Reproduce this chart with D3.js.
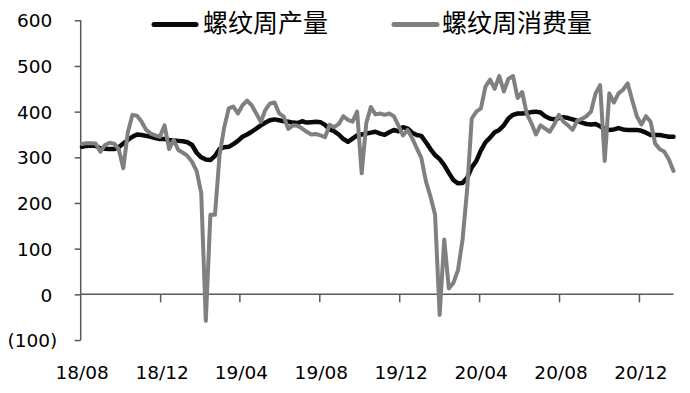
<!DOCTYPE html>
<html>
<head>
<meta charset="utf-8">
<script src="https://cdn.jsdelivr.net/npm/d3@7"></script>
<style>
  html, body { margin: 0; padding: 0; background: #fff; }
  svg { display: block; }
</style>
</head>
<body>
<svg id="chart" width="690" height="393"></svg>
<script>
// ---- data ----
const startDate = "2018-08-03";           // first weekly observation
const seriesNames = ["螺纹周产量", "螺纹周消费量"];
const production = [
  323,325,326,325,320,319,318,318,322,330,
  338,345,350,349,347,345,342,340,340,338,
  337,336,335,333,327,310,300,295,294,303,
  318,322,323,329,336,345,350,356,363,370,
  376,381,383,381,379,378,376,375,379,376,
  377,378,377,371,361,357,350,340,334,341,
  348,350,352,354,356,352,349,355,360,357,
  366,363,354,349,347,333,318,305,296,283,
  266,250,243,244,255,278,292,315,333,343,
  355,360,370,385,393,396,396,397,399,400,
  398,390,385,383,386,388,386,383,380,376,
  373,372,373,368,362,360,361,364,361,360,
  360,360,358,354,349,349,349,347,345,345
];
const consumption = [
  329,331,331,330,312,327,332,330,318,276,
  355,393,391,378,360,352,348,345,370,318,
  338,316,310,303,290,270,222,-58,174,174,
  305,365,407,411,396,414,424,414,396,378,
  404,418,420,396,389,362,370,369,363,356,
  350,351,348,344,371,366,373,390,382,378,
  400,265,375,410,394,396,393,396,390,370,
  348,360,342,320,299,248,214,174,-45,120,
  13,25,53,120,230,385,400,407,455,470,
  450,478,444,472,478,430,443,395,375,350,
  370,363,356,372,393,378,370,360,380,384,
  390,400,440,458,292,440,420,440,448,462,
  425,390,372,390,378,330,318,312,295,270
];
const yTicks = [-100, 0, 100, 200, 300, 400, 500, 600];
const xTickDates = ["2018-08-01","2018-12-01","2019-04-01","2019-08-01",
                    "2019-12-01","2020-04-01","2020-08-01","2020-12-01"];
const xDomainEnd = "2021-01-22";

// ---- setup ----
const parse = d3.timeParse("%Y-%m-%d");
const t0 = parse(startDate);
const dates = production.map((_, i) => d3.timeDay.offset(t0, 7 * i));
const svg = d3.select("#chart");
const FONT = "'DejaVu Sans', sans-serif";
const CJK = "'Noto Sans CJK SC', sans-serif";

const x = d3.scaleTime()
  .domain([parse(xTickDates[0]), parse(xDomainEnd)])
  .range([80.7, 673.5]);
const y = d3.scaleLinear().domain([-100, 600]).range([340.0, 20.3]);

const axisColor = "#595959";

// y axis
const yAxis = svg.append("g")
  .attr("transform", `translate(${x.range()[0]},0)`)
  .call(d3.axisLeft(y).tickValues(yTicks).tickSize(6).tickSizeOuter(0)
        .tickFormat(v => v < 0 ? `(${Math.abs(v)})` : `${v}`));
yAxis.select(".domain").attr("stroke", axisColor).attr("stroke-width", 1.5)
  .attr("d", `M0,${y(600)}V${y(-100)}`);
yAxis.selectAll(".tick line").attr("stroke", axisColor).attr("stroke-width", 1.5);
yAxis.selectAll(".tick text")
  .attr("font-family", FONT).attr("font-size", 18.5).attr("fill", "#000")
  .attr("x", v => v < 0 ? -23.5 : -28.5)
  .attr("dy", "0.36em");

// x axis (line at zero, labels at bottom)
const xg = svg.append("g").attr("transform", `translate(0,${y(0)})`);
xg.append("line")
  .attr("x1", x.range()[0]).attr("x2", x.range()[1])
  .attr("y1", 0).attr("y2", 0)
  .attr("stroke", axisColor).attr("stroke-width", 1.5);
const tickDates = xTickDates.map(parse);
xg.selectAll("line.tk").data(tickDates.slice(1)).join("line")
  .attr("class", "tk")
  .attr("x1", d => x(d)).attr("x2", d => x(d))
  .attr("y1", 0).attr("y2", 8)
  .attr("stroke", axisColor).attr("stroke-width", 1.5);
const fmt = d3.timeFormat("%y/%m");
svg.append("g").selectAll("text").data(tickDates).join("text")
  .attr("x", d => x(d) + 1.5).attr("y", 379)
  .attr("text-anchor", "middle")
  .attr("font-family", FONT).attr("font-size", 18.5).attr("fill", "#000")
  .text(d => fmt(d));

// lines
const line = d3.line().x((d, i) => x(dates[i])).y(d => y(d));
svg.append("path").datum(production)
  .attr("fill", "none").attr("stroke", "#0a0a0a").attr("stroke-width", 4.5)
  .attr("stroke-linejoin", "round").attr("stroke-linecap", "round")
  .attr("d", line);
svg.append("path").datum(consumption)
  .attr("fill", "none").attr("stroke", "#808080").attr("stroke-width", 4)
  .attr("stroke-linejoin", "round").attr("stroke-linecap", "round")
  .attr("d", line);

// legend
const legend = [
  { name: seriesNames[0], color: "#0a0a0a", x1: 154, x2: 196, tx: 203 },
  { name: seriesNames[1], color: "#808080", x1: 394, x2: 437, tx: 442 }
];
const lg = svg.append("g");
legend.forEach(l => {
  lg.append("line").attr("x1", l.x1).attr("x2", l.x2).attr("y1", 24.5).attr("y2", 24.5)
    .attr("stroke", l.color).attr("stroke-width", 5).attr("stroke-linecap", "round");
  lg.append("text").attr("x", l.tx).attr("y", 32)
    .attr("font-family", CJK).attr("font-size", 25).attr("fill", "#000")
    .text(l.name);
});
</script>
</body>
</html>
